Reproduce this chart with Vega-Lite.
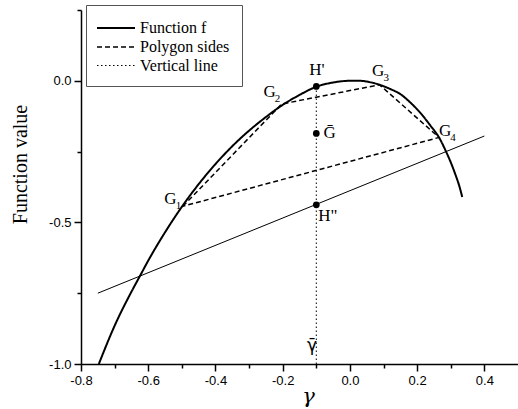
{
  "$schema": "https://vega.github.io/schema/vega-lite/v6.json",
  "width": 437,
  "height": 354,
  "autosize": {"type": "none"},
  "padding": {"left": 81, "top": 10, "right": 0, "bottom": 45},
  "background": "white",
  "config": {
    "view": {"stroke": null}
  },
  "datasets": {
    "fcurve": [
      {"g": -0.747, "f": -1.0, "series": "Function f"},
      {"g": -0.70, "f": -0.865, "series": "Function f"},
      {"g": -0.65, "f": -0.745, "series": "Function f"},
      {"g": -0.625, "f": -0.69, "series": "Function f"},
      {"g": -0.60, "f": -0.635, "series": "Function f"},
      {"g": -0.55, "f": -0.535, "series": "Function f"},
      {"g": -0.50, "f": -0.445, "series": "Function f"},
      {"g": -0.45, "f": -0.365, "series": "Function f"},
      {"g": -0.40, "f": -0.294, "series": "Function f"},
      {"g": -0.35, "f": -0.231, "series": "Function f"},
      {"g": -0.30, "f": -0.176, "series": "Function f"},
      {"g": -0.25, "f": -0.128, "series": "Function f"},
      {"g": -0.20, "f": -0.085, "series": "Function f"},
      {"g": -0.15, "f": -0.05, "series": "Function f"},
      {"g": -0.10, "f": -0.021, "series": "Function f"},
      {"g": -0.05, "f": -0.006, "series": "Function f"},
      {"g": 0.00, "f": 0.0, "series": "Function f"},
      {"g": 0.03, "f": 0.0, "series": "Function f"},
      {"g": 0.06, "f": -0.005, "series": "Function f"},
      {"g": 0.088, "f": -0.014, "series": "Function f"},
      {"g": 0.12, "f": -0.029, "series": "Function f"},
      {"g": 0.15, "f": -0.047, "series": "Function f"},
      {"g": 0.18, "f": -0.077, "series": "Function f"},
      {"g": 0.21, "f": -0.114, "series": "Function f"},
      {"g": 0.24, "f": -0.159, "series": "Function f"},
      {"g": 0.265, "f": -0.2, "series": "Function f"},
      {"g": 0.286, "f": -0.25, "series": "Function f"},
      {"g": 0.30, "f": -0.288, "series": "Function f"},
      {"g": 0.315, "f": -0.335, "series": "Function f"},
      {"g": 0.325, "f": -0.37, "series": "Function f"},
      {"g": 0.334, "f": -0.41, "series": "Function f"}
    ],
    "polygon": [
      {"k": 1, "g": -0.497, "f": -0.443, "series": "Polygon sides"},
      {"k": 2, "g": -0.203, "f": -0.082, "series": "Polygon sides"},
      {"k": 3, "g": 0.088, "f": -0.014, "series": "Polygon sides"},
      {"k": 4, "g": 0.265, "f": -0.2, "series": "Polygon sides"},
      {"k": 5, "g": -0.497, "f": -0.443, "series": "Polygon sides"}
    ],
    "vertical": [
      {"g": -0.1, "f": -1.0, "series": "Vertical line"},
      {"g": -0.1, "f": -0.02, "series": "Vertical line"}
    ],
    "thin": [
      {"g": -0.75, "f": -0.75},
      {"g": 0.4, "f": -0.195}
    ],
    "points": [
      {"name": "H'", "g": -0.1, "f": -0.02},
      {"name": "Gbar", "g": -0.1, "f": -0.186},
      {"name": "H\"", "g": -0.1, "f": -0.438}
    ],
    "labels": [
      {"text": "G", "sub": "1", "g": -0.534, "f": -0.418},
      {"text": "G", "sub": "2", "g": -0.239, "f": -0.041},
      {"text": "G", "sub": "3", "g": 0.084, "f": 0.033},
      {"text": "G", "sub": "4", "g": 0.283, "f": -0.176},
      {"text": "H'", "sub": "", "g": -0.098, "f": 0.039},
      {"text": "Ḡ", "sub": "", "g": -0.06, "f": -0.186},
      {"text": "H\"", "sub": "", "g": -0.066, "f": -0.479}
    ],
    "gbar": [
      {"text": "γ̄", "g": -0.113, "f": -0.935}
    ]
  },
  "encoding": {
    "x": {
      "field": "g",
      "type": "quantitative",
      "scale": {"domain": [-0.8, 0.5], "nice": false, "zero": false},
      "axis": {
        "values": [-0.8, -0.7, -0.6, -0.5, -0.4, -0.3, -0.2, -0.1, 0, 0.1, 0.2, 0.3, 0.4],
        "labelExpr": "round(datum.value*10)%2==0 ? replace(format(datum.value,'.1f'),'−','-') : ''",
        "tickSize": {"condition": {"test": "round(datum.value*10)%2==0", "value": 7}, "value": 4},
        "grid": false,
        "domainColor": "black",
        "domainWidth": 1.5,
        "tickColor": "black",
        "tickWidth": 1.5,
        "labelFont": "Liberation Sans",
        "labelFontSize": 13,
        "labelColor": "black",
        "labelPadding": 3,
        "labelOverlap": false,
        "labelFlush": false,
        "title": "γ",
        "titleFont": "DejaVu Serif",
        "titleFontStyle": "italic",
        "titleFontWeight": "normal",
        "titleFontSize": 21,
        "titleColor": "black",
        "titleX": 227,
        "titlePadding": -2
      }
    },
    "y": {
      "field": "f",
      "type": "quantitative",
      "scale": {"domain": [-1.0, 0.25], "nice": false, "zero": false},
      "axis": {
        "values": [-1.0, -0.75, -0.5, -0.25, 0, 0.25],
        "labelExpr": "round(datum.value*4)%2==0 ? replace(format(datum.value,'.1f'),'−','-') : ''",
        "tickSize": {"condition": {"test": "round(datum.value*4)%2==0", "value": 7}, "value": 4},
        "grid": false,
        "domainColor": "black",
        "domainWidth": 1.5,
        "tickColor": "black",
        "tickWidth": 1.5,
        "labelFont": "Liberation Sans",
        "labelFontSize": 13,
        "labelColor": "black",
        "labelPadding": 3,
        "labelOverlap": false,
        "labelFlush": false,
        "title": "Function value",
        "titleFont": "Liberation Serif",
        "titleFontWeight": "normal",
        "titleFontSize": 20,
        "titleColor": "black",
        "titleY": 154,
        "titlePadding": 18
      }
    }
  },
  "layer": [
    {
      "data": {"name": "fcurve"},
      "mark": {"type": "line", "color": "black", "interpolate": "monotone"},
      "encoding": {
        "strokeDash": {"field": "series", "type": "ordinal", "scale": {"domain": ["Function f", "Polygon sides", "Vertical line"], "range": [[1, 0], [5, 3], [1.5, 2.5]]},
          "legend": {"orient": "none", "legendX": 5, "legendY": -5, "title": null, "symbolType": "M-1.2,0H2.6", "symbolSize": 400, "symbolStrokeColor": "black", "labelFont": "Liberation Serif", "labelFontSize": 16, "labelColor": "black", "labelOffset": 20, "strokeColor": "#555555", "fillColor": "white", "padding": 12, "rowPadding": 0}},
        "strokeWidth": {"field": "series", "type": "ordinal", "scale": {"domain": ["Function f", "Polygon sides", "Vertical line"], "range": [2, 1, 1]},
          "legend": {"orient": "none", "legendX": 5, "legendY": -5, "title": null, "symbolType": "M-1.2,0H2.6", "symbolSize": 400, "symbolStrokeColor": "black", "labelFont": "Liberation Serif", "labelFontSize": 16, "labelColor": "black", "labelOffset": 20, "strokeColor": "#555555", "fillColor": "white", "padding": 12, "rowPadding": 0}}
      }
    },
    {
      "data": {"name": "polygon"},
      "mark": {"type": "line", "color": "black"},
      "encoding": {
        "order": {"field": "k", "type": "quantitative"},
        "strokeDash": {"field": "series", "type": "ordinal", "scale": {"domain": ["Function f", "Polygon sides", "Vertical line"], "range": [[1, 0], [5, 3], [1.5, 2.5]]}},
        "strokeWidth": {"field": "series", "type": "ordinal", "scale": {"domain": ["Function f", "Polygon sides", "Vertical line"], "range": [2, 1, 1]}}
      }
    },
    {
      "data": {"name": "vertical"},
      "mark": {"type": "line", "color": "black"},
      "encoding": {
        "strokeDash": {"field": "series", "type": "ordinal", "scale": {"domain": ["Function f", "Polygon sides", "Vertical line"], "range": [[1, 0], [5, 3], [1.5, 2.5]]}},
        "strokeWidth": {"field": "series", "type": "ordinal", "scale": {"domain": ["Function f", "Polygon sides", "Vertical line"], "range": [2, 1, 1]}}
      }
    },
    {
      "data": {"name": "thin"},
      "mark": {"type": "line", "color": "black", "strokeWidth": 1},
      "encoding": {}
    },
    {
      "data": {"name": "points"},
      "mark": {"type": "point", "filled": true, "color": "black", "size": 45, "opacity": 1},
      "encoding": {}
    },
    {
      "data": {"name": "labels"},
      "mark": {"type": "text", "font": "Liberation Serif", "fontSize": 17, "color": "black", "align": "center", "baseline": "middle"},
      "encoding": {"text": {"field": "text"}}
    },
    {
      "data": {"name": "labels"},
      "mark": {"type": "text", "font": "Liberation Serif", "fontSize": 11, "color": "black", "align": "center", "baseline": "middle", "dx": 8, "dy": 7},
      "encoding": {"text": {"field": "sub"}}
    },
    {
      "data": {"name": "gbar"},
      "mark": {"type": "text", "font": "DejaVu Sans", "fontSize": 17, "color": "black", "align": "center", "baseline": "middle"},
      "encoding": {"text": {"field": "text"}}
    }
  ]
}
